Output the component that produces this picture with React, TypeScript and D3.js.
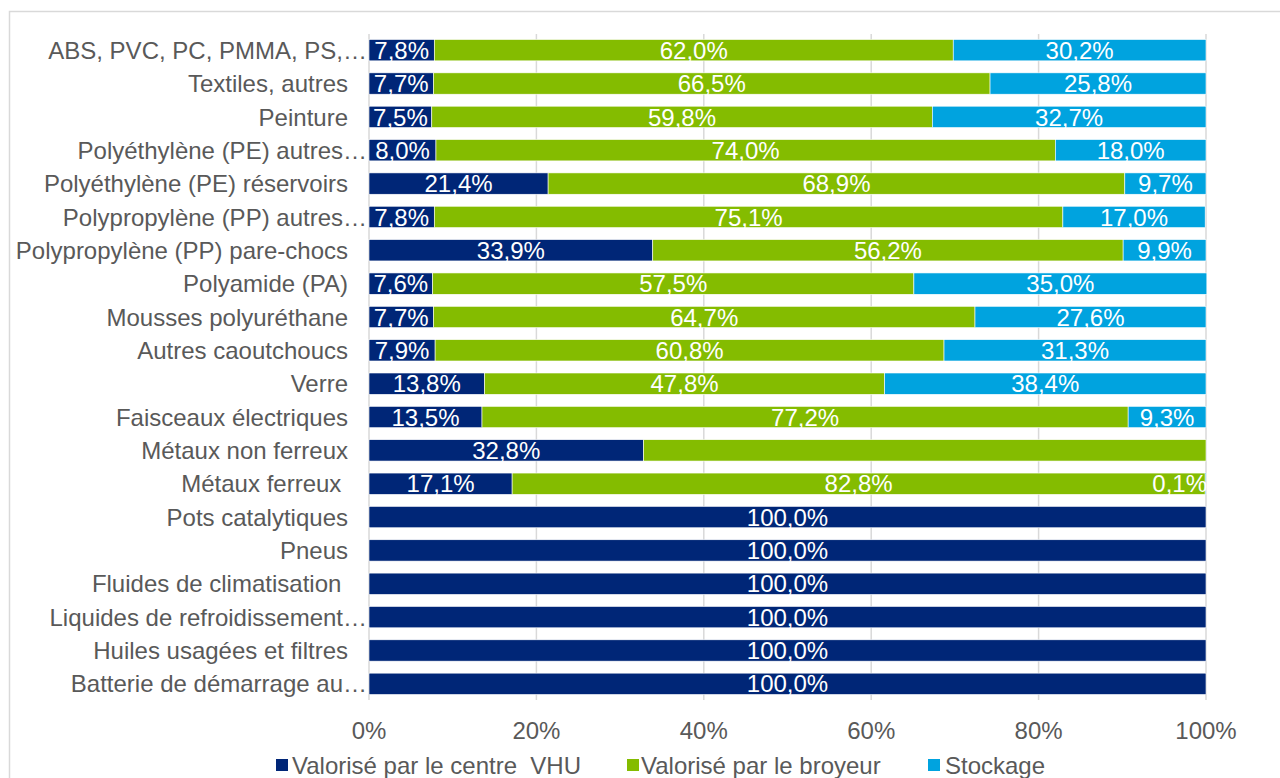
import React from "react";
import * as d3 from "d3";

const categories = [
  "ABS, PVC, PC, PMMA, PS,…",
  "Textiles, autres",
  "Peinture",
  "Polyéthylène (PE) autres…",
  "Polyéthylène (PE) réservoirs",
  "Polypropylène (PP) autres…",
  "Polypropylène (PP) pare-chocs",
  "Polyamide (PA)",
  "Mousses polyuréthane",
  "Autres caoutchoucs",
  "Verre",
  "Faisceaux électriques",
  "Métaux non ferreux",
  "Métaux ferreux ",
  "Pots catalytiques",
  "Pneus",
  "Fluides de climatisation ",
  "Liquides de refroidissement…",
  "Huiles usagées et filtres",
  "Batterie de démarrage au…",
];

const centreVHU = [7.8, 7.7, 7.5, 8.0, 21.4, 7.8, 33.9, 7.6, 7.7, 7.9, 13.8, 13.5, 32.8, 17.1, 100, 100, 100, 100, 100, 100];
const broyeur = [62.0, 66.5, 59.8, 74.0, 68.9, 75.1, 56.2, 57.5, 64.7, 60.8, 47.8, 77.2, 67.2, 82.8, 0, 0, 0, 0, 0, 0];
const stockage = [30.2, 25.8, 32.7, 18.0, 9.7, 17.0, 9.9, 35.0, 27.6, 31.3, 38.4, 9.3, 0, 0.1, 0, 0, 0, 0, 0, 0];
// rows where the "broyeur" label is not shown in the source
const hiddenBroyeurLabels = ["Métaux non ferreux"];

const seriesNames = ["Valorisé par le centre  VHU", "Valorisé par le broyeur", "Stockage"];
const seriesColors = ["#002677", "#84BC00", "#00A3DF"];
const xTicks = [0, 20, 40, 60, 80, 100];

const fmt = (v: number) => v.toFixed(1).replace(".", ",") + "%";

export default function App() {
  const W = 1280, H = 778;
  const x0 = 369, x1 = 1206;
  const FS = 24;
  const x = d3.scaleLinear().domain([0, 100]).range([x0, x1]);
  const y = d3.scaleBand().domain(categories).range([33.5, 700.5]).paddingInner(0.36).paddingOuter(0.18);
  const bh = y.bandwidth();
  const seriesData = [centreVHU, broyeur, stockage];
  const pre = { whiteSpace: "pre" as const };

  const textW = (s: string) => s.length * 12.5;

  return (
    <svg width={W} height={H} style={{ position: "absolute", left: 0, top: 0, fontFamily: "'Liberation Sans', Arial, sans-serif" }}>
      <rect x={0} y={0} width={W} height={H} fill="#fff" />
      <rect x={9.5} y={11.5} width={1300} height={800} fill="none" stroke="#d9d9d9" strokeWidth={1.5} />
      {xTicks.map((t) => (
        <line key={t} x1={x(t)} x2={x(t)} y1={34} y2={700} stroke="#d9d9d9" strokeWidth={1.5} />
      ))}
      {categories.map((c, i) => {
        let acc = 0;
        const truncated = c.endsWith("…");
        return (
          <g key={c}>
            {seriesData.map((s, k) => {
              const v = s[i];
              const start = acc;
              acc += v;
              if (v <= 0) return null;
              const xa = x(start), xb = x(start + v);
              const yy = y(c)!;
              const label = fmt(v);
              const showLabel = !(k === 1 && hiddenBroyeurLabels.includes(c));
              const tw = textW(label);
              const narrow = xb - xa < tw;
              const atEnd = narrow && xb >= x1 - 1;
              const tx = atEnd ? x1 + 1 : (xa + xb) / 2;
              const anchor = atEnd ? "end" : "middle";
              return (
                <g key={k}>
                  <rect x={xa} y={yy} width={xb - xa} height={bh} fill={seriesColors[k]} stroke="#fff" strokeWidth={0.6} />
                  {showLabel && (
                    <text x={tx} y={yy + bh / 2} dy="0.36em" textAnchor={anchor} fill="#fff" fontSize={FS}>
                      {label}
                    </text>
                  )}
                </g>
              );
            })}
            <text x={truncated ? 367 : 348} y={y(c)! + bh / 2} dy="0.36em" textAnchor="end" fill="#595959" fontSize={FS} style={pre}>
              {c}
            </text>
          </g>
        );
      })}
      {xTicks.map((t) => (
        <text key={t} x={x(t)} y={730} dy="0.36em" textAnchor="middle" fill="#595959" fontSize={FS}>
          {t}%
        </text>
      ))}
      {[
        { sx: 276, tx: 292 },
        { sx: 627, tx: 641 },
        { sx: 928, tx: 945 },
      ].map((p, k) => (
        <g key={k}>
          <rect x={p.sx} y={759} width={12} height={12} fill={seriesColors[k]} />
          <text x={p.tx} y={765} dy="0.36em" fill="#595959" fontSize={FS} style={pre}>
            {seriesNames[k]}
          </text>
        </g>
      ))}
    </svg>
  );
}
